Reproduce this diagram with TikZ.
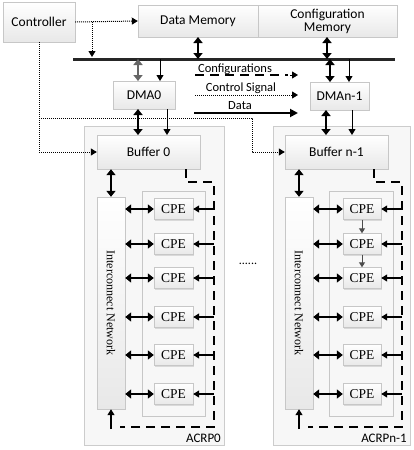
\documentclass[tikz,border=0pt]{standalone}
\usepackage{fontspec}
\setmainfont{Carlito}
\newfontfamily\serifx{Liberation Serif}
\usetikzlibrary{arrows.meta,shadows}
\begin{document}
\begin{tikzpicture}[x=1pt,y=-1pt,
  box/.style={draw=black!22, top color=white, bottom color=black!9, drop shadow={shadow xshift=1pt,shadow yshift=-1pt,opacity=0.25}, inner sep=0pt, font=\fontsize{13.5}{15}\selectfont, align=center},
  panel/.style={draw=black!20, fill=black!3, inner sep=0pt, drop shadow={shadow xshift=1pt,shadow yshift=-1pt,opacity=0.15}},
  inner/.style={draw=black!22, fill=black!3, inner sep=0pt},
  cpe/.style={box, minimum height=21pt, font=\serifx\fontsize{13.5}{14}\selectfont},
  net/.style={box, minimum width=28pt, minimum height=212pt},
  dbl/.style={{Triangle[width=9pt,length=6pt]}-{Triangle[width=9pt,length=6pt]}, line width=1.8pt},
  sgl/.style={-{Triangle[width=7pt,length=6pt]}, line width=1pt},
  ctl/.style={densely dotted, line width=1pt, -{Triangle[width=7pt,length=6pt]}},
  cfg/.style={dash pattern=on 9pt off 6pt, line width=1.4pt},
  lbl/.style={font=\fontsize{12.5}{14}\selectfont, inner sep=0pt}
]
\useasboundingbox (0,0) rectangle (413,450);

% panels
\node[panel, minimum width=140pt, minimum height=319pt] (acrp0) at (154,285.5) {};
\node[panel, minimum width=137pt, minimum height=319pt] (acrpn) at (341.5,285.5) {};
\node[inner, minimum width=63pt, minimum height=225pt] (in0) at (173.5,303.5) {};
\node[inner, minimum width=64pt, minimum height=225pt] (inn) at (361,303.5) {};

% top
\node[box, minimum width=72pt, minimum height=40pt] (ctrl) at (39,22) {Controller};
\node[box, minimum width=120pt, minimum height=32pt] (dmem) at (198,21) {Data Memory};
\node[box, minimum width=139pt, minimum height=32pt] (cmem) at (327.5,21) {Configuration\\[-2pt]Memory};

\coordinate (busL) at (73,59);
\coordinate (busR) at (395,59);
\draw[line width=3pt, black!85] (busL) -- (busR);

\node[box, minimum width=62pt, minimum height=28pt] (dma0) at (144,95) {DMA0};
\node[box, minimum width=59pt, minimum height=28pt] (dman) at (339.5,96) {DMAn-1};

\node[box, minimum width=103pt, minimum height=34pt] (buf0) at (148.5,152) {Buffer 0};
\node[box, minimum width=103pt, minimum height=34pt] (bufn) at (336.5,152) {Buffer n-1};

\node[net] (net0) at (111,303) {};
\node[net] (netn) at (299,303) {};
\node[rotate=-90, font=\serifx\fontsize{12}{13}\selectfont, inner sep=0pt] (t0) at (net0.center) {Interconnect Network};
\node[rotate=-90, font=\serifx\fontsize{12}{13}\selectfont, inner sep=0pt] (tn) at (netn.center) {Interconnect Network};

% CPEs
\foreach \i/\y in {1/209,2/244,3/278,4/317,5/355,6/394}{
  \node[cpe, minimum width=39pt] (a\i) at (173.5,\y) {CPE};
  \node[cpe, minimum width=38pt] (b\i) at (362,\y) {CPE};
  \draw[dbl, line width=1.6pt] (net0.east |- a\i) -- (a\i.west);
  \draw[dbl, line width=1.6pt] (netn.east |- b\i) -- (b\i.west);
  \coordinate (fa\i) at (214,\y);
  \coordinate (fb\i) at (402,\y);
  \draw[sgl, line width=1.2pt] (fa\i) -- (a\i.east);
  \draw[sgl, line width=1.2pt] (fb\i) -- (b\i.east);
}
\draw[-{Triangle[width=6pt,length=5pt]}, line width=1pt, black!70] (b1.south) -- (b2.north);
\draw[-{Triangle[width=6pt,length=5pt]}, line width=1pt, black!70] (b2.south) -- (b3.north);

% controller connections
\draw[ctl] (ctrl.east) -- (dmem.west);
\coordinate (c1) at (92,22);
\draw[ctl] (c1) -- (92,57);
\coordinate (c2) at (39,118);
\draw[ctl] (ctrl.south) -- (39,152) -- (buf0.west);
\draw[ctl] (c2) -- (252,118) -- (252,152) -- (bufn.west);

% memory to bus
\draw[dbl] (198,37) -- (198,59);
\draw[dbl] (327,37) -- (327,59);
% bus to DMA
\draw[dbl, black!60] (138,59) -- (138,81);
\draw[sgl] (160,59) -- (160,81);
\draw[dbl] (330,59) -- (330,82);
\draw[sgl] (349,59) -- (349,82);
% DMA to buffers
\draw[dbl] (138,109) -- (138,135);
\draw[sgl] (167,109) -- (167,135);
\draw[dbl] (326,110) -- (326,135);
\draw[sgl] (352,110) -- (352,135);
% buffers to networks
\draw[dbl] (buf0.south -| net0) -- (net0.north);
\draw[dbl] (bufn.south -| netn) -- (netn.north);

% dashed feedback
\draw[cfg] (186,169) -- (186,182) -- (214,182) -- (214,427) -- (120,427);
\draw[sgl, line width=1.2pt] (111,429) -- (net0.south);
\draw[cfg] (374,169) -- (374,182) -- (402,182) -- (402,427) -- (308,427);
\draw[sgl, line width=1.2pt] (299,429) -- (netn.south);

% legend
\node[lbl] (lcfg) at (235,69) {Configurations};
\node[lbl] (lctl) at (241,88) {Control Signal};
\node[lbl] (ldat) at (240,106) {Data};
\draw[cfg] (195,75) -- (288,75);
\draw[-{Triangle[width=7pt,length=6pt]}, line width=1pt] (290,75) -- (298,75);
\draw[ctl] (195,95) -- (298,95);
\draw[line width=1.8pt, -{Triangle[width=8pt,length=8pt]}] (194,113) -- (298,113);

% labels
\node[lbl, anchor=east, font=\fontsize{13}{14}\selectfont] (l0) at (221,438) {ACRP0};
\node[lbl, anchor=east, font=\fontsize{13}{14}\selectfont] (ln) at (407,438) {ACRPn-1};
\node[font=\fontsize{12}{13}\selectfont, inner sep=0pt] (dots) at (248,264) {......};
\end{tikzpicture}
\end{document}
